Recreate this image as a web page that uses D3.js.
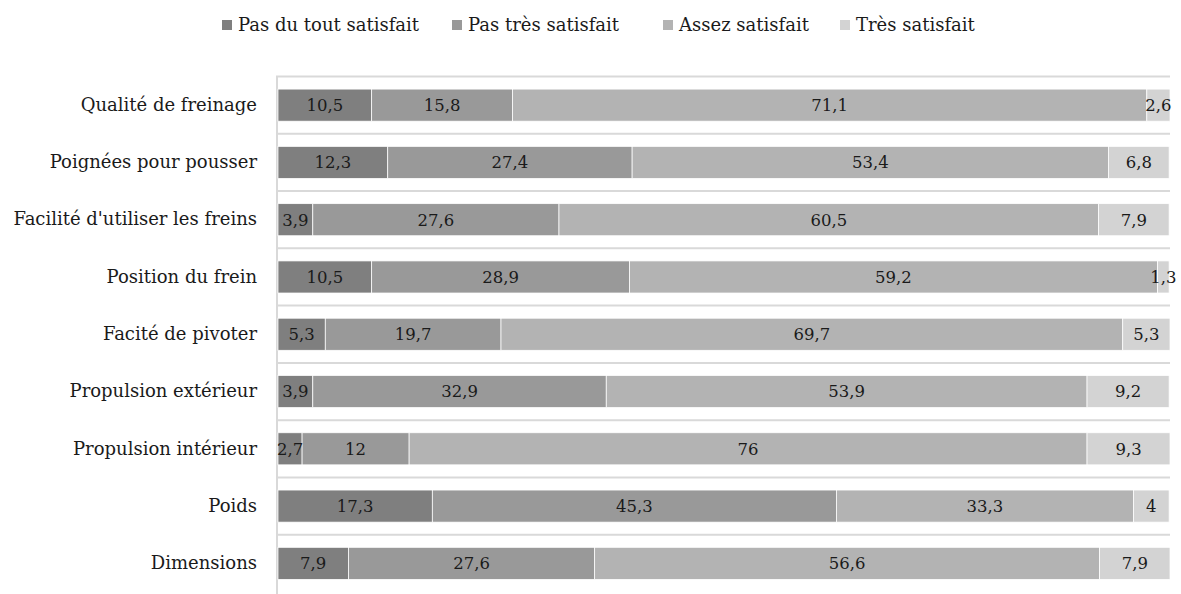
<!DOCTYPE html>
<html><head><meta charset="utf-8">
<script src="https://cdn.jsdelivr.net/npm/d3@7"></script>
<style>body{margin:0;background:#fff}svg{display:block}</style>
</head><body>
<script>
const categories = ["Qualité de freinage","Poignées pour pousser","Facilité d'utiliser les freins","Position du frein","Facité de pivoter","Propulsion extérieur","Propulsion intérieur","Poids","Dimensions"];
const seriesNames = ["Pas du tout satisfait","Pas très satisfait","Assez satisfait","Très satisfait"];
const pasDuTout = [10.5,12.3,3.9,10.5,5.3,3.9,2.7,17.3,7.9];
const pasTres   = [15.8,27.4,27.6,28.9,19.7,32.9,12,45.3,27.6];
const assez     = [71.1,53.4,60.5,59.2,69.7,53.9,76,33.3,56.6];
const tres      = [2.6,6.8,7.9,1.3,5.3,9.2,9.3,4,7.9];
const colors = ["#7f7f7f","#999999","#b3b3b3","#d3d3d3"];

const W=1181,H=594;
const font="DejaVu Serif";
const svg=d3.select("body").append("svg").attr("width",W).attr("height",H);
const x=d3.scaleLinear().domain([0,100]).range([278,1170]);
const y=d3.scaleBand().domain(categories).range([76.5,592]).paddingInner(0.44).paddingOuter(0.22);

const step=y.step();
const boundaries=d3.range(categories.length).map(i=>76.5+i*step);
svg.append("g").selectAll("line").data(boundaries).join("line")
  .attr("x1",278).attr("x2",1170).attr("y1",d=>d).attr("y2",d=>d)
  .attr("stroke","#d9d9d9").attr("stroke-width",2);
svg.append("line").attr("x1",277).attr("x2",277).attr("y1",75.5).attr("y2",594)
  .attr("stroke","#d9d9d9").attr("stroke-width",2);

const rows=categories.map((c,i)=>({cat:c,v:[pasDuTout[i],pasTres[i],assez[i],tres[i]]}));
const segs=[];
rows.forEach(r=>{let acc=0;r.v.forEach((v,k)=>{segs.push({cat:r.cat,k,x0:acc,x1:acc+v,v});acc+=v;});});
svg.append("g").selectAll("rect").data(segs).join("rect")
  .attr("x",d=>x(d.x0)).attr("width",d=>x(d.x1)-x(d.x0))
  .attr("y",d=>y(d.cat)).attr("height",y.bandwidth())
  .attr("fill",d=>colors[d.k]).attr("stroke","#fff").attr("stroke-width",0.75);
svg.append("g").selectAll("text").data(segs).join("text")
  .attr("x",d=>(x(d.x0)+x(d.x1))/2).attr("y",d=>y(d.cat)+y.bandwidth()/2)
  .attr("dy","0.36em").attr("text-anchor","middle")
  .attr("font-family",font).attr("font-size",16.5).attr("fill","#1a1a1a")
  .text(d=>String(d.v).replace(".",","));

const ax=svg.append("g").attr("transform","translate(277,0)")
  .call(d3.axisLeft(y).tickSize(0).tickPadding(20));
ax.select(".domain").remove();
ax.attr("font-family",null).attr("font-size",null);
ax.selectAll("text").attr("font-family",font).attr("font-size",18).attr("fill","#1a1a1a");

const legX=[222,452,663,840];
const lg=svg.append("g").selectAll("g").data(seriesNames).join("g")
  .attr("transform",(d,i)=>`translate(${legX[i]},25)`);
lg.append("rect").attr("x",0).attr("y",-5).attr("width",10).attr("height",10).attr("fill",(d,i)=>colors[i]);
lg.append("text").attr("x",16).attr("dy","0.35em").attr("font-family",font).attr("font-size",18).attr("fill","#1a1a1a").text(d=>d);
</script>
</body></html>
